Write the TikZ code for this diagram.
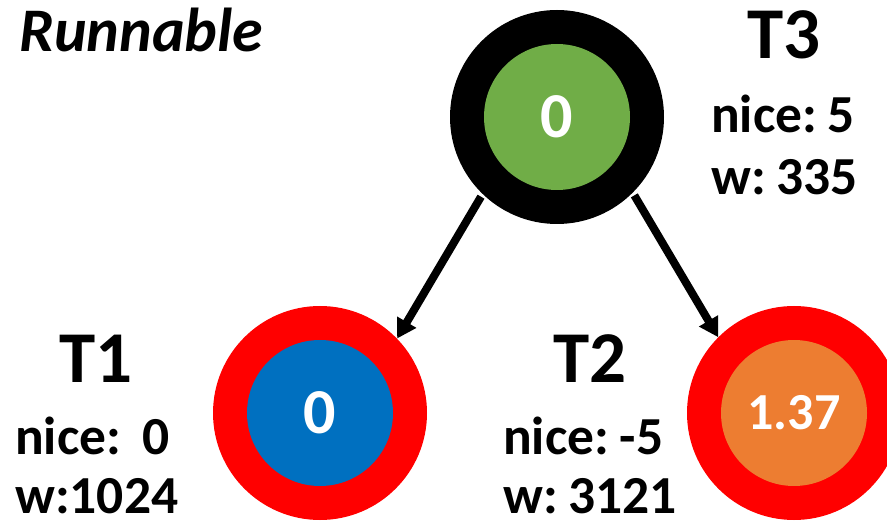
\documentclass[tikz,border=0pt]{standalone}
\usepackage{fontspec}
\setmainfont{Carlito}
\usetikzlibrary{arrows.meta}
\definecolor{cgreen}{HTML}{70AD47}
\definecolor{cblue}{HTML}{0070C0}
\definecolor{corange}{HTML}{ED7D31}
\definecolor{cred}{HTML}{FF0000}
\newcommand{\isp}{\hspace{0.2em}}
\tikzset{
  ring/.style={circle, inner sep=0pt, minimum size=214pt},
  core/.style={circle, inner sep=0pt, minimum size=146pt, text=white, font=\fontsize{64}{64}\selectfont\bfseries},
  tlabel/.style={anchor=base, font=\fontsize{73}{73}\selectfont\bfseries},
  info/.style={anchor=base west, inner sep=0pt, font=\fontsize{53.5}{53.5}\selectfont\bfseries},
  edge/.style={line width=8pt, -{Triangle[length=19pt,width=21pt]}}
}
\begin{document}
\begin{tikzpicture}[x=1pt,y=-1pt]
\useasboundingbox (0,0) rectangle (887,521);
\clip (0,0) rectangle (887,521);
% rings
\node[ring, fill=black] (t3) at (557,117) {};
\node[core, fill=cgreen] (t3c) at (557,117) {0};
\node[ring, fill=cred] (t1) at (320,413) {};
\node[core, fill=cblue] (t1c) at (320,413) {0};
\node[ring, fill=cred] (t2) at (794,413) {};
\node[core, fill=corange, font=\fontsize{52}{52}\selectfont\bfseries] (t2c) at (794,413) {1.37};
% title
\node[anchor=base west, inner sep=0pt, font=\fontsize{62}{62}\selectfont\bfseries\itshape] (title) at (19,52) {Runnable};
% labels
\node[tlabel] (l3) at (784,59) {T3};
\node[info] (n3) at (711,133) {nice:\isp 5};
\node[info] (w3) at (711,195) {w:\isp 335};
\node[tlabel] (l1) at (96,383) {T1};
\node[info] (n1) at (15,455) {nice:\isp\isp 0};
\node[info] (w1) at (15,513) {w:1024};
\node[tlabel] (l2) at (590,383) {T2};
\node[info] (n2) at (503,455) {nice:\isp -5};
\node[info] (w2) at (503,513) {w:\isp 3121};
% arrows
\draw[edge, shorten <=3pt] (t3.226) -- (t1.44);
\draw[edge, shorten <=3pt] (t3.315) -- (t2.135);
\end{tikzpicture}
\end{document}
